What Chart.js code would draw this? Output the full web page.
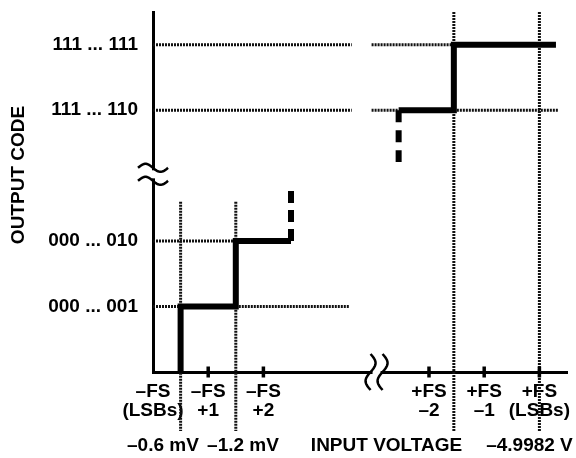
<!DOCTYPE html>
<html><head><meta charset="utf-8">
<script src="https://cdn.jsdelivr.net/npm/chart.js@4.4.0/dist/chart.umd.min.js"></script>
<style>html,body{margin:0;padding:0;background:#fff;}canvas{display:block}</style>
</head><body>
<canvas id="c" width="576" height="458"></canvas>
<script>
// ---- data ----
const yCodeValues = [1, 2, 4, 5];
const yCodeLabels = ['000 ... 001', '000 ... 010', '111 ... 110', '111 ... 111'];
const xTickValues = [0, 1, 2, 5, 6, 7];
const xTickLabels = [['–FS', '(LSBs)'], ['–FS', '+1'], ['–FS', '+2'], ['+FS', '–2'], ['+FS', '–1'], ['+FS', '(LSBs)']];
const xTickMarkValues = [1, 2, 5, 6, 7];

const lowStepX = [0.5, 0.5, 1.5, 1.5, 2.5];
const lowStepY = [0, 1, 1, 2, 2];
const lowStubX = [2.5, 2.5];
const lowStubY = [2, 2.78];
const highStubX = [4.45, 4.45];
const highStubY = [4, 3.21];
const highStepX = [4.45, 5.45, 5.45, 7.3];
const highStepY = [4, 4, 5, 5];

// dotted reference lines
const hGridY  = [5, 5, 4, 4, 4, 2, 1, 1];
const hGridX0 = [0, 3.96, 0, 3.96, 5.45, 0, 0, 1.5];
const hGridX1 = [3.6, 5.45, 3.6, 4.45, 7.35, 1.5, 0.5, 3.55];
const vGridX  = [0.5, 1.5, 5.45, 7];
const vGridY0 = [2.6, 2.6, 5.5, 5.5];
const vGridY1 = [-0.9, -0.9, -0.9, -0.9];

const yAxisTitle = 'OUTPUT CODE';
const bottomLabels = ['–0.6 mV', '–1.2 mV', 'INPUT VOLTAGE', '–4.9982 V'];
const bottomLabelAt = [0.18, 1.63, 4.23, 6.82];

// ---- build ----
const FAM = '"Liberation Sans", Arial, Helvetica, sans-serif';
const FONT = {family: FAM, size: 19, weight: 'bold', lineHeight: 1.0};
const pts = (xs, ys) => xs.map((x, i) => ({x, y: ys[i]}));

const datasets = [];
const lineBase = {showLine: true, pointRadius: 0, borderColor: '#000', fill: false, tension: 0, clip: false, borderJoinStyle: 'miter'};
datasets.push(Object.assign({}, lineBase, {data: pts(lowStepX, lowStepY), borderWidth: 6, order: 0}));
datasets.push(Object.assign({}, lineBase, {data: pts(highStepX, highStepY), borderWidth: 6, order: 0}));
datasets.push(Object.assign({}, lineBase, {data: pts(lowStubX, lowStubY), borderWidth: 6, borderDash: [12, 7], order: 0}));
datasets.push(Object.assign({}, lineBase, {data: pts(highStubX, highStubY), borderWidth: 6, borderDash: [12, 8], order: 0}));
hGridY.forEach((y, i) => {
  datasets.push(Object.assign({}, lineBase, {data: [{x: hGridX0[i], y}, {x: hGridX1[i], y}], borderWidth: 3, borderDash: [2, 1], borderColor: '#111', order: 2}));
});
vGridX.forEach((x, i) => {
  datasets.push(Object.assign({}, lineBase, {data: [{x, y: vGridY0[i]}, {x, y: vGridY1[i]}], borderWidth: 3, borderDash: [2, 1], borderColor: '#111', order: 2}));
});
datasets.push({data: xTickMarkValues.map(v => ({x: v, y: 0})), showLine: false, pointStyle: 'line', rotation: 90, pointRadius: 5.5, borderWidth: 3.5, borderColor: '#000', clip: false, order: 1});

const decor = {
  id: 'decor',
  afterDraw(chart) {
    const ctx = chart.ctx, xs = chart.scales.x, ys = chart.scales.y;
    const ax = chart.chartArea.left, ay = chart.chartArea.bottom;
    ctx.save();
    // y-axis break
    const yc = ys.getPixelForValue(3.02);
    ctx.fillStyle = '#fff';
    ctx.fillRect(ax - 4, yc - 4, 8, 8);
    ctx.strokeStyle = '#000'; ctx.lineWidth = 2.5;
    [yc - 6.5, yc + 6.5].forEach(y0 => {
      ctx.beginPath();
      for (let t = 0; t <= 30; t++) {
        const px = ax - 15 + t, py = y0 - 4 * Math.sin(2 * Math.PI * t / 30);
        t ? ctx.lineTo(px, py) : ctx.moveTo(px, py);
      }
      ctx.stroke();
    });
    // x-axis break
    const xc = xs.getPixelForValue(4.05);
    ctx.fillRect(xc - 4, ay - 4, 8, 8);
    [xc - 6, xc + 6].forEach(x0 => {
      ctx.beginPath();
      for (let t = 0; t <= 36; t++) {
        const py = ay - 18 + t, px = x0 + 5 * Math.sin(2 * Math.PI * t / 36);
        t ? ctx.lineTo(px, py) : ctx.moveTo(px, py);
      }
      ctx.stroke();
    });
    // titles
    ctx.fillStyle = '#000';
    ctx.font = 'bold 19px ' + FAM;
    ctx.textAlign = 'center'; ctx.textBaseline = 'middle';
    ctx.save();
    ctx.translate(19, 175);
    ctx.rotate(-Math.PI / 2);
    ctx.fillText(yAxisTitle, 0, 0);
    ctx.restore();
    bottomLabels.forEach((s, i) => ctx.fillText(s, xs.getPixelForValue(bottomLabelAt[i]), 446));
    ctx.restore();
  }
};

new Chart(document.getElementById('c'), {
  type: 'scatter',
  data: {datasets},
  options: {
    responsive: false, animation: false, events: [],
    layout: {padding: {top: 12, right: 3, left: 0, bottom: 0}},
    plugins: {legend: {display: false}, tooltip: {enabled: false}},
    scales: {
      x: {
        type: 'linear', min: 0, max: 7.5,
        grid: {display: false, drawTicks: false},
        border: {display: true, width: 3, color: '#000'},
        ticks: {font: FONT, color: '#000', padding: 10, maxRotation: 0, autoSkip: false,
          callback: (v, i) => xTickLabels[i]},
        afterBuildTicks: s => { s.ticks = xTickValues.map(v => ({value: v})); },
        afterFit: s => { s.height = 86; s.paddingLeft = 0; s.paddingRight = 0; }
      },
      y: {
        type: 'linear', min: 0, max: 5.5,
        grid: {display: false, drawTicks: false},
        border: {display: true, width: 3, color: '#000'},
        ticks: {font: FONT, color: '#000', padding: 15, autoSkip: false,
          callback: (v, i) => yCodeLabels[i]},
        afterBuildTicks: s => { s.ticks = yCodeValues.map(v => ({value: v})); },
        afterFit: s => { s.width = 153; s.paddingTop = 0; s.paddingBottom = 0; }
      }
    }
  },
  plugins: [decor]
});
</script>
</body></html>
